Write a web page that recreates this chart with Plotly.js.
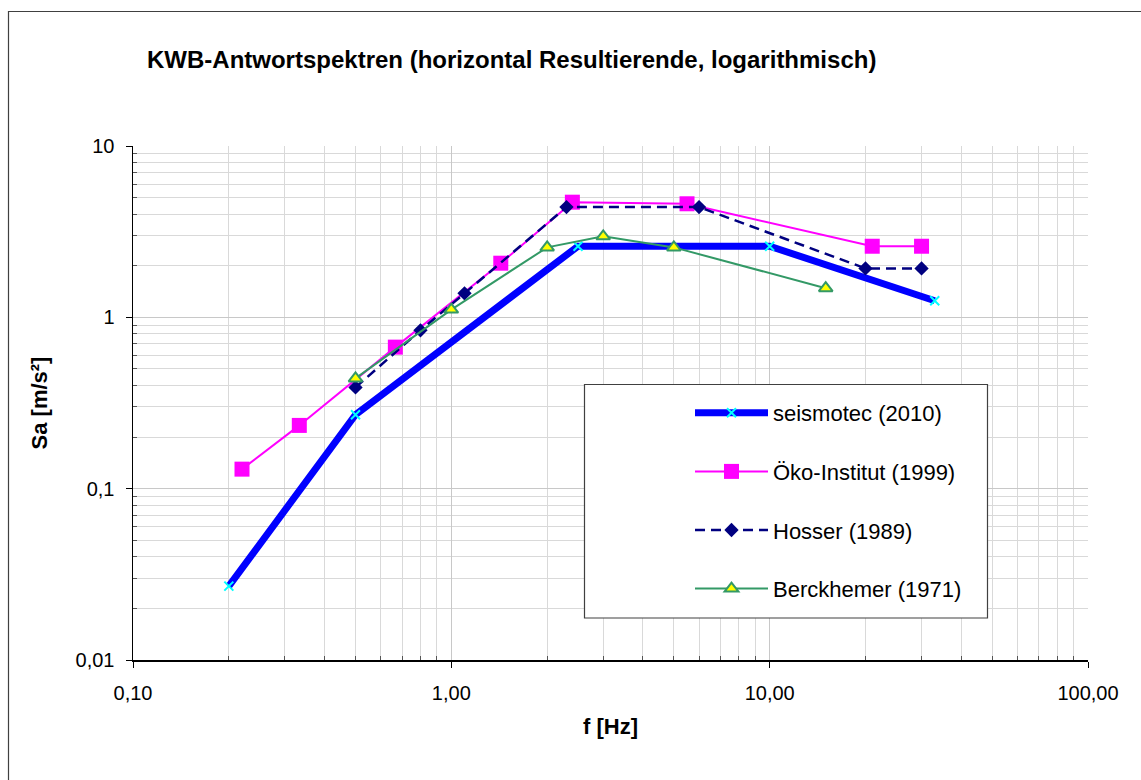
<!DOCTYPE html>
<html>
<head>
<meta charset="utf-8">
<script src="https://cdn.plot.ly/plotly-3.0.1.min.js"></script>
<style>
html,body{margin:0;padding:0;background:#fff;}
#chart{width:1141px;height:780px;}
</style>
</head>
<body>
<div id="chart"></div>
<script>
// ---- data ----
const seismotecF  = [0.2, 0.5, 2.5, 10, 33];
const seismotecSa = [0.027, 0.27, 2.6, 2.6, 1.25];

const oekoF  = [0.22, 0.333, 0.667, 1.43, 2.4, 5.5, 21, 30];
const oekoSa = [0.13, 0.234, 0.67, 2.07, 4.7, 4.6, 2.6, 2.6];

const hosserF  = [0.5, 0.8, 1.1, 2.3, 6.0, 20, 30];
const hosserSa = [0.39, 0.84, 1.38, 4.4, 4.4, 1.93, 1.93];

const berckF  = [0.5, 1.0, 2.0, 3.0, 5.0, 15];
const berckSa = [0.44, 1.11, 2.56, 2.97, 2.56, 1.48];

const seriesNames = ["seismotec (2010)", "Öko-Institut (1999)", "Hosser (1989)", "Berckhemer (1971)"];

const xTickVals = [0.1, 1, 10, 100];
const xTickText = ["0,10", "1,00", "10,00", "100,00"];
const yTickVals = [0.01, 0.1, 1, 10];
const yTickText = ["0,01", "0,1", "1", "10"];
const xMinorVals = [0.2,0.3,0.4,0.5,0.6,0.7,0.8,0.9, 2,3,4,5,6,7,8,9, 20,30,40,50,60,70,80,90];
const yMinorVals = [0.02,0.03,0.04,0.05,0.06,0.07,0.08,0.09, 0.2,0.3,0.4,0.5,0.6,0.7,0.8,0.9, 2,3,4,5,6,7,8,9];

const FONT = "Liberation Sans, Arial, Helvetica, sans-serif";

const traces = [
  {
    x: seismotecF, y: seismotecSa, name: seriesNames[0], type: "scatter", mode: "lines+markers",
    legendgroup: "a",
    line: {color: "#0000FF", width: 7},
    marker: {symbol: "x-thin-open", size: 9, color: "#00FFFF", line: {color: "#00FFFF", width: 2}}
  },
  {
    x: oekoF, y: oekoSa, name: seriesNames[1], type: "scatter", mode: "lines+markers",
    legendgroup: "b",
    line: {color: "#FF00FF", width: 2},
    marker: {symbol: "square", size: 15, color: "#FF00FF"}
  },
  {
    x: hosserF, y: hosserSa, name: seriesNames[2], type: "scatter", mode: "lines+markers",
    legendgroup: "c",
    line: {color: "#000080", width: 2.5, dash: "10px,6px"},
    marker: {symbol: "diamond", size: 11, color: "#000080"}
  },
  {
    x: berckF, y: berckSa, name: seriesNames[3], type: "scatter", mode: "lines+markers",
    legendgroup: "d",
    line: {color: "#339966", width: 2},
    marker: {symbol: "triangle-up", size: 12, color: "#FFFF00", line: {color: "#339966", width: 2}}
  }
];

const layout = {
  width: 1141, height: 780,
  margin: {l: 133, r: 53, t: 146, b: 120, pad: 0},
  paper_bgcolor: "#ffffff", plot_bgcolor: "#ffffff",
  font: {family: FONT, color: "#000000", size: 20},
  showlegend: true,
  title: {
    text: "<b>KWB-Antwortspektren (horizontal Resultierende, logarithmisch)</b>",
    font: {family: FONT, size: 24, color: "#000"},
    x: 147/1141, xanchor: "left", xref: "container",
    y: 1 - 60/780, yanchor: "middle", yref: "container"
  },
  xaxis: {
    type: "log", range: [-1, 2],
    tickmode: "array", tickvals: xTickVals, ticktext: xTickText,
    ticks: "outside", ticklen: 6, tickcolor: "#000", tickwidth: 1,
    tickfont: {family: FONT, size: 20, color: "#000"},
    ticklabelstandoff: 8,
    showline: true, linecolor: "#000", linewidth: 1.5, mirror: false,
    showgrid: true, gridcolor: "#c8c8c8", gridwidth: 1,
    zeroline: false,
    minor: {tickmode: "array", tickvals: xMinorVals, ticks: "inside", ticklen: 4, tickcolor: "#555",
            showgrid: true, gridcolor: "#d9d9d9", gridwidth: 1},
    title: {text: "<b>f [Hz]</b>", font: {family: FONT, size: 22, color: "#000"}, standoff: 16}
  },
  yaxis: {
    type: "log", range: [-2, 1],
    tickmode: "array", tickvals: yTickVals, ticktext: yTickText,
    ticks: "outside", ticklen: 6, tickcolor: "#000", tickwidth: 1,
    tickfont: {family: FONT, size: 20, color: "#000"},
    ticklabelstandoff: 7,
    showline: true, linecolor: "#000", linewidth: 1.5, mirror: false,
    showgrid: true, gridcolor: "#c8c8c8", gridwidth: 1,
    zeroline: false,
    minor: {tickmode: "array", tickvals: yMinorVals, ticks: "inside", ticklen: 4, tickcolor: "#555",
            showgrid: true, gridcolor: "#d9d9d9", gridwidth: 1},
    title: {text: "<b>Sa [m/s²]</b>", font: {family: FONT, size: 22, color: "#000"}, standoff: 22}
  },
  legend: {
    x: (690-133)/955, xanchor: "left", xref: "paper",
    y: (660-392)/514, yanchor: "top", yref: "paper",
    bgcolor: "rgba(0,0,0,0)", borderwidth: 0,
    font: {family: FONT, size: 22, color: "#000"},
    itemwidth: 73, traceorder: "grouped", tracegroupgap: 27,
    itemclick: false, itemdoubleclick: false
  },
  shapes: [
    // outer chart-area border
    {type: "rect", xref: "paper", yref: "paper",
     x0: (8.5-133)/955, x1: (1150-133)/955, y0: (660-790)/514, y1: (660-11.5)/514,
     line: {color: "#404040", width: 1.2}, fillcolor: "rgba(0,0,0,0)", layer: "below"},
    // legend box
    {type: "rect", xref: "paper", yref: "paper",
     x0: (584.5-133)/955, x1: (987.5-133)/955, y0: (660-618)/514, y1: (660-384.5)/514,
     line: {color: "#404040", width: 1.2}, fillcolor: "#ffffff", layer: "above"}
  ],
  hovermode: false
};

Plotly.newPlot("chart", traces, layout, {displayModeBar: false, staticPlot: true});
</script>
</body>
</html>
